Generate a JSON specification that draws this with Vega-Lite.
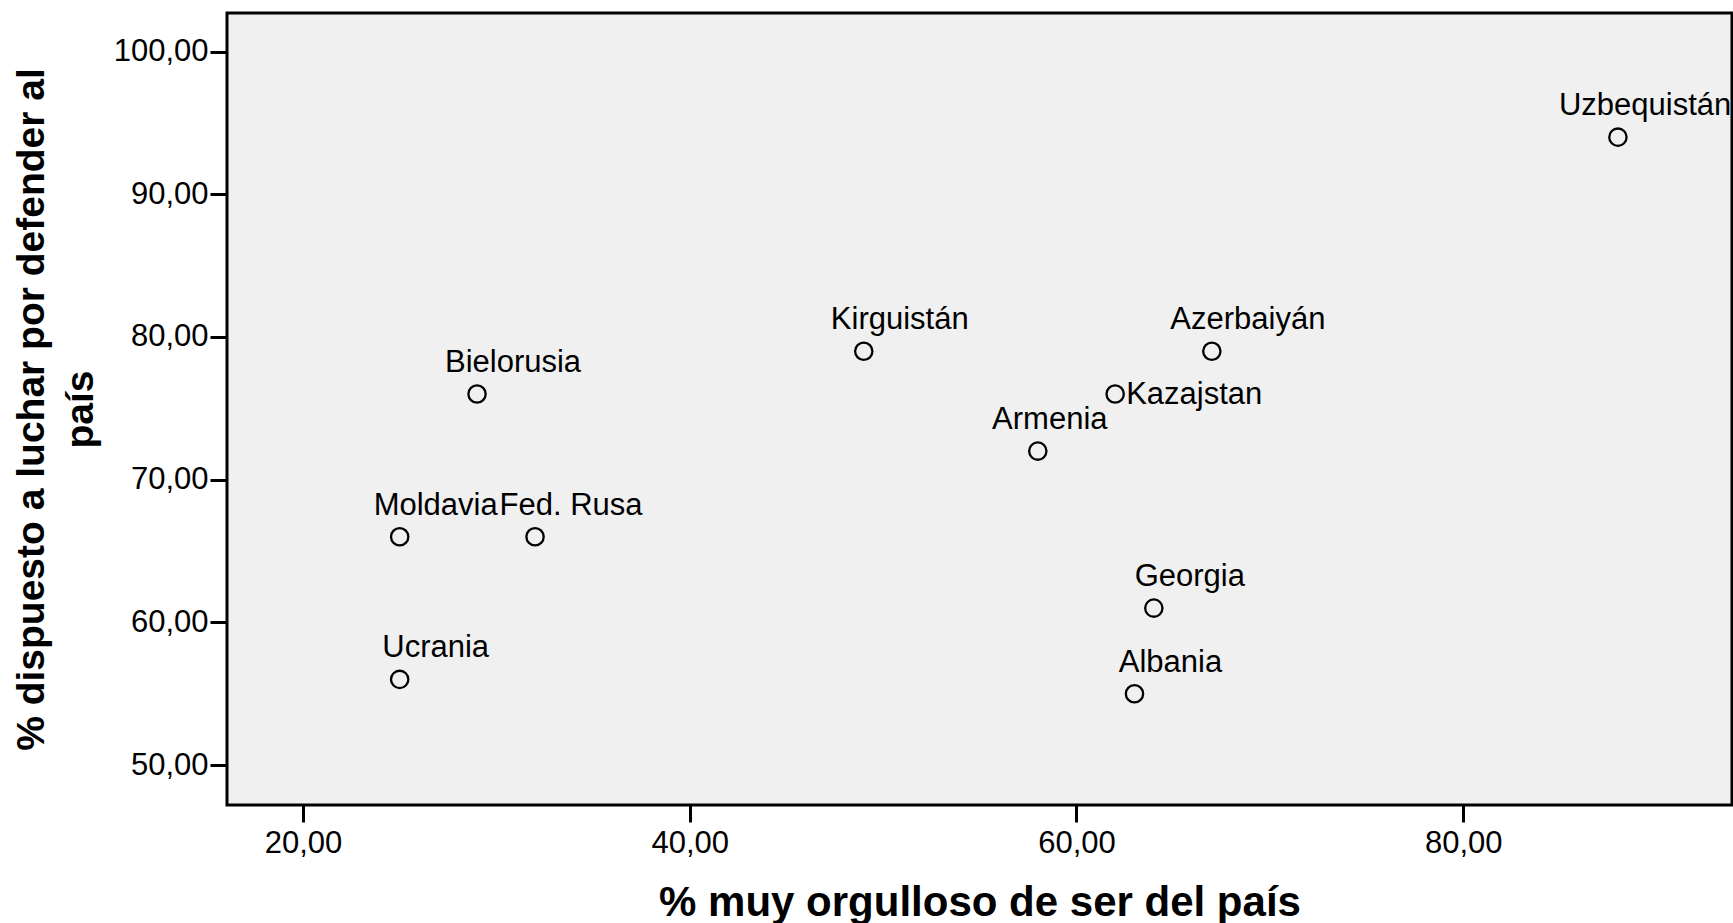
{
  "$schema": "https://vega.github.io/schema/vega-lite/v6.json",
  "width": 1505,
  "height": 792,
  "autosize": {"type": "none"},
  "padding": {"left": 227, "top": 13, "right": 1, "bottom": 118},
  "background": "white",
  "config": {
    "view": {"fill": "#f0f0f0", "stroke": "black", "strokeWidth": 3},
    "font": "Liberation Sans"
  },
  "data": {
    "values": [
      {"pais": "Uzbequistán", "orgulloso": 88, "dispuesto": 94},
      {"pais": "Kirguistán", "orgulloso": 49, "dispuesto": 79},
      {"pais": "Azerbaiyán", "orgulloso": 67, "dispuesto": 79},
      {"pais": "Kazajstan", "orgulloso": 62, "dispuesto": 76},
      {"pais": "Armenia", "orgulloso": 58, "dispuesto": 72},
      {"pais": "Bielorusia", "orgulloso": 29, "dispuesto": 76},
      {"pais": "Moldavia", "orgulloso": 25, "dispuesto": 66},
      {"pais": "Fed. Rusa", "orgulloso": 32, "dispuesto": 66},
      {"pais": "Ucrania", "orgulloso": 25, "dispuesto": 56},
      {"pais": "Georgia", "orgulloso": 64, "dispuesto": 61},
      {"pais": "Albania", "orgulloso": 63, "dispuesto": 55}
    ]
  },
  "encoding": {
    "x": {
      "field": "orgulloso",
      "type": "quantitative",
      "scale": {"domain": [16.07, 93.9], "nice": false, "zero": false},
      "axis": {
        "title": "% muy orgulloso de ser del país",
        "values": [20, 40, 60, 80],
        "labelExpr": "replace(format(datum.value, '.2f'), '.', ',')",
        "grid": false,
        "domain": false,
        "tickColor": "black",
        "tickWidth": 3,
        "tickSize": 17,
        "labelFontSize": 31,
        "labelColor": "black",
        "labelBaseline": "alphabetic",
        "labelPadding": 30,
        "titleFontSize": 42,
        "titleFontWeight": "bold",
        "titleColor": "black",
        "titleBaseline": "alphabetic",
        "titleY": 110
      }
    },
    "y": {
      "field": "dispuesto",
      "type": "quantitative",
      "scale": {"domain": [47.2, 102.7], "nice": false, "zero": false},
      "axis": {
        "title": ["% dispuesto a luchar por defender al", "país"],
        "values": [50, 60, 70, 80, 90, 100],
        "labelExpr": "replace(format(datum.value, '.2f'), '.', ',')",
        "grid": false,
        "domain": false,
        "tickColor": "black",
        "tickWidth": 3,
        "tickSize": 17,
        "labelFontSize": 31,
        "labelColor": "black",
        "labelPadding": 2,
        "titleFontSize": 39,
        "titleFontWeight": "bold",
        "titleColor": "black",
        "titleLineHeight": 49,
        "titleX": -196,
        "titleY": 396,
        "titleBaseline": "middle",
        "titleAngle": -90,
        "titleAlign": "center"
      }
    }
  },
  "layer": [
    {
      "mark": {"type": "point", "shape": "circle", "filled": false, "stroke": "black", "strokeWidth": 2.3, "size": 300, "opacity": 1}
    },
    {
      "transform": [{"filter": "indexof(['Armenia', 'Kazajstan', 'Uzbequistán'], datum.pais) < 0"}],
      "mark": {"type": "text", "align": "center", "baseline": "alphabetic", "dx": 36, "dy": -22, "fontSize": 31, "color": "black"},
      "encoding": {"text": {"field": "pais"}}
    },
    {
      "transform": [{"filter": "datum.pais == 'Armenia'"}],
      "mark": {"type": "text", "align": "center", "baseline": "alphabetic", "dx": 12, "dy": -22, "fontSize": 31, "color": "black"},
      "encoding": {"text": {"field": "pais"}}
    },
    {
      "transform": [{"filter": "datum.pais == 'Uzbequistán'"}],
      "mark": {"type": "text", "align": "left", "baseline": "alphabetic", "dx": -59, "dy": -22, "fontSize": 31, "color": "black"},
      "encoding": {"text": {"field": "pais"}}
    },
    {
      "transform": [{"filter": "datum.pais == 'Kazajstan'"}],
      "mark": {"type": "text", "align": "left", "baseline": "alphabetic", "dx": 11, "dy": 10, "fontSize": 31, "color": "black"},
      "encoding": {"text": {"field": "pais"}}
    }
  ]
}
